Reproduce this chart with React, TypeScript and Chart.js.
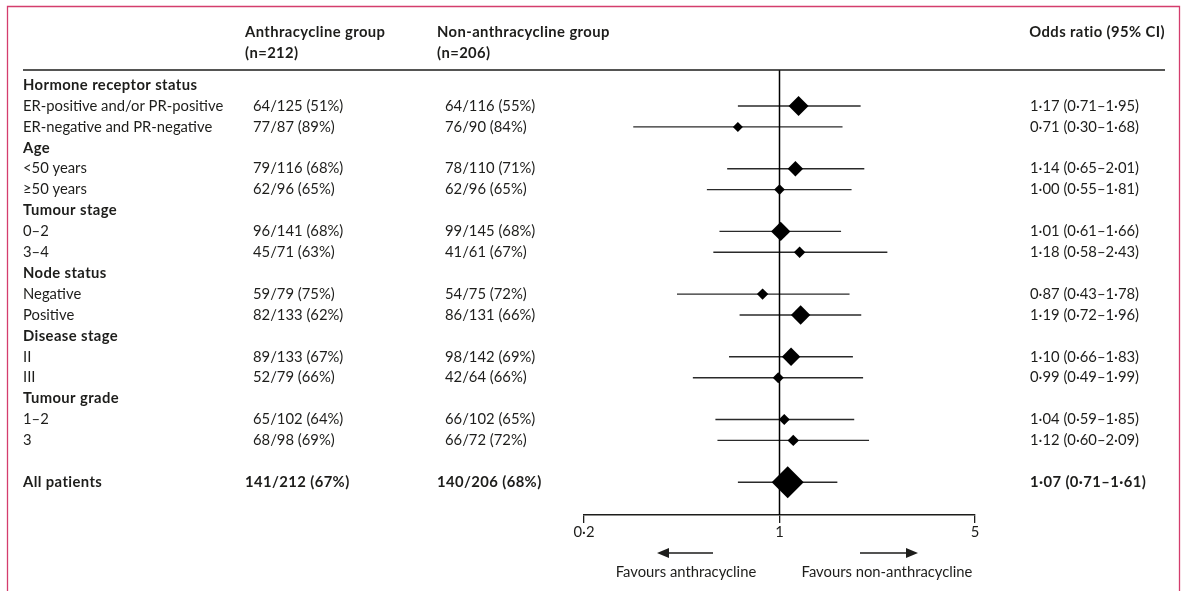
import React, { useEffect, useRef } from 'react';
import { Chart, registerables } from 'chart.js';

Chart.register(...registerables);

// ---------- data ----------
const rowLabels = [
  'Hormone receptor status',
  'ER-positive and/or PR-positive',
  'ER-negative and PR-negative',
  'Age',
  '<50 years',
  '≥50 years',
  'Tumour stage',
  '0–2',
  '3–4',
  'Node status',
  'Negative',
  'Positive',
  'Disease stage',
  'II',
  'III',
  'Tumour grade',
  '1–2',
  '3',
  '',
  'All patients',
];
const rowIsHeading = [true, false, false, true, false, false, true, false, false, true, false, false, true, false, false, true, false, false, false, true];
const anthraValues = ['', '64/125 (51%)', '77/87 (89%)', '', '79/116 (68%)', '62/96 (65%)', '', '96/141 (68%)', '45/71 (63%)', '', '59/79 (75%)', '82/133 (62%)', '', '89/133 (67%)', '52/79 (66%)', '', '65/102 (64%)', '68/98 (69%)', '', '141/212 (67%)'];
const nonAnthraValues = ['', '64/116 (55%)', '76/90 (84%)', '', '78/110 (71%)', '62/96 (65%)', '', '99/145 (68%)', '41/61 (67%)', '', '54/75 (72%)', '86/131 (66%)', '', '98/142 (69%)', '42/64 (66%)', '', '66/102 (65%)', '66/72 (72%)', '', '140/206 (68%)'];
const oddsRatio = [null, 1.17, 0.71, null, 1.14, 1.0, null, 1.01, 1.18, null, 0.87, 1.19, null, 1.1, 0.99, null, 1.04, 1.12, null, 1.07];
const ciLower = [null, 0.71, 0.3, null, 0.65, 0.55, null, 0.61, 0.58, null, 0.43, 0.72, null, 0.66, 0.49, null, 0.59, 0.6, null, 0.71];
const ciUpper = [null, 1.95, 1.68, null, 2.01, 1.81, null, 1.66, 2.43, null, 1.78, 1.96, null, 1.83, 1.99, null, 1.85, 2.09, null, 1.61];
const markerSize = [0, 10, 5, 0, 7.7, 5.3, 0, 9.7, 5.7, 0, 5.7, 9.7, 0, 9.2, 5.5, 0, 5.5, 5.7, 0, 16];
const xTickValues = [0.2, 1, 5];
const groupHeaders = ['Anthracycline group', 'Non-anthracycline group'];
const groupCounts = ['(n=212)', '(n=206)'];
const orHeader = 'Odds ratio (95% CI)';
const favourLabels = ['Favours anthracycline', 'Favours non-anthracycline'];
const totalRowIndex = 19;

// ---------- style ----------
const FONT = 'Lato, "Noto Sans", sans-serif';
const FS = 14.8;
const BOLD_SPACING = '0.4px';
const INK = '#1d1d1b';
const BORDER = '#d43d6d';

const fmt = (v: number) => v.toFixed(2).replace('.', '·');
const fmtTick = (v: number) => String(v).replace('.', '·');

export default function App() {
  const ref = useRef<HTMLCanvasElement | null>(null);

  useEffect(() => {
    const canvas = ref.current;
    if (!canvas) return;

    const rows = rowLabels.map((_, i) => i);
    const markerData = rows
      .filter((i) => oddsRatio[i] !== null)
      .map((i) => ({ x: oddsRatio[i] as number, y: i }));
    const markerRadii = rows.filter((i) => oddsRatio[i] !== null).map((i) => markerSize[i]);

    const ciDatasets = rows
      .filter((i) => oddsRatio[i] !== null)
      .map((i) => ({
        label: 'ci' + i,
        data: [
          { x: ciLower[i] as number, y: i },
          { x: ciUpper[i] as number, y: i },
        ],
        showLine: true,
        borderColor: '#2a2a2a',
        borderWidth: 1.4,
        pointRadius: 0,
        order: 3,
      }));

    const yMin = -0.7225;
    const yMax = 20.57;

    const setFont = (ctx: CanvasRenderingContext2D, bold: boolean) => {
      ctx.font = `${bold ? 'bold ' : ''}${FS}px ${FONT}`;
      (ctx as any).letterSpacing = bold ? BOLD_SPACING : '0px';
    };

    const tablePlugin = {
      id: 'forestTable',
      afterDraw(chart: any) {
        const ctx = chart.ctx as CanvasRenderingContext2D;
        const yScale = chart.scales.y;
        ctx.save();
        // frame
        ctx.strokeStyle = BORDER;
        ctx.lineWidth = 1.3;
        ctx.beginPath();
        ctx.moveTo(7.5, 600);
        ctx.lineTo(7.5, 6.5);
        ctx.lineTo(1179.5, 6.5);
        ctx.lineTo(1179.5, 600);
        ctx.stroke();

        // header rule
        ctx.strokeStyle = INK;
        ctx.lineWidth = 1.5;
        ctx.beginPath();
        ctx.moveTo(23, chart.chartArea.top);
        ctx.lineTo(1165, chart.chartArea.top);
        ctx.stroke();

        ctx.fillStyle = INK;
        ctx.textBaseline = 'middle';
        setFont(ctx, true);
        ctx.textAlign = 'left';
        ctx.fillText(groupHeaders[0], 245, 32);
        ctx.fillText(groupCounts[0], 245, 53);
        ctx.fillText(groupHeaders[1], 437, 32);
        ctx.fillText(groupCounts[1], 437, 53);
        ctx.textAlign = 'right';
        ctx.fillText(orHeader, 1165, 32);
        ctx.textAlign = 'left';

        rowLabels.forEach((label, i) => {
          const py = yScale.getPixelForValue(i);
          const bold = rowIsHeading[i];
          const total = i === totalRowIndex;
          setFont(ctx, bold);
          if (label) ctx.fillText(label, 23, py);
          setFont(ctx, total);
          if (anthraValues[i]) ctx.fillText(anthraValues[i], total ? 245 : 253, py);
          if (nonAnthraValues[i]) ctx.fillText(nonAnthraValues[i], total ? 437 : 445, py);
          if (oddsRatio[i] !== null) {
            ctx.fillText(
              `${fmt(oddsRatio[i] as number)} (${fmt(ciLower[i] as number)}–${fmt(ciUpper[i] as number)})`,
              1030,
              py
            );
          }
        });

        // arrows
        const ay = 553;
        ctx.strokeStyle = INK;
        ctx.lineWidth = 1.5;
        ctx.beginPath();
        ctx.moveTo(713, ay);
        ctx.lineTo(666, ay);
        ctx.moveTo(860, ay);
        ctx.lineTo(908, ay);
        ctx.stroke();
        ctx.beginPath();
        ctx.moveTo(657, ay);
        ctx.lineTo(669, ay - 5);
        ctx.lineTo(669, ay + 5);
        ctx.closePath();
        ctx.moveTo(918, ay);
        ctx.lineTo(906, ay - 5);
        ctx.lineTo(906, ay + 5);
        ctx.closePath();
        ctx.fill();

        setFont(ctx, false);
        ctx.textAlign = 'center';
        ctx.fillText(favourLabels[0], 686, 572);
        ctx.fillText(favourLabels[1], 887, 572);
        ctx.restore();
      },
    };

    const chart = new Chart(canvas, {
      type: 'scatter',
      data: {
        datasets: [
          {
            label: 'OR',
            data: markerData,
            pointStyle: 'rectRot',
            pointRadius: markerRadii,
            backgroundColor: '#000',
            borderWidth: 0,
            order: 1,
          } as any,
          {
            label: 'ref',
            data: [
              { x: 1, y: yMin },
              { x: 1, y: yMax },
            ],
            showLine: true,
            borderColor: '#000',
            borderWidth: 1.5,
            pointRadius: 0,
            order: 2,
          },
          ...ciDatasets,
        ],
      },
      options: {
        responsive: false,
        animation: false,
        devicePixelRatio: 1,
        events: [],
        layout: { padding: { left: 584, right: 209, top: 70, bottom: 46 } },
        plugins: { legend: { display: false }, tooltip: { enabled: false } },
        scales: {
          x: {
            type: 'logarithmic',
            min: 0.2,
            max: 5,
            position: 'bottom',
            afterBuildTicks: (scale: any) => {
              scale.ticks = xTickValues.map((v) => ({ value: v }));
            },
            afterFit: (scale: any) => {
              scale.height = 30;
            },
            ticks: {
              autoSkip: false,
              maxRotation: 0,
              padding: 0,
              color: INK,
              font: { family: FONT, size: FS },
              callback: (v: any) => fmtTick(Number(v)),
            },
            grid: {
              display: true,
              drawOnChartArea: false,
              drawTicks: true,
              tickLength: 8,
              color: INK,
              lineWidth: 1.3,
            },
            border: { display: true, color: INK, width: 1.5 },
          },
          y: {
            type: 'linear',
            reverse: true,
            min: yMin,
            max: yMax,
            display: false,
          },
        },
      } as any,
      plugins: [tablePlugin],
    });
    return () => chart.destroy();
  }, []);

  return (
    <div style={{ position: 'fixed', left: 0, top: 0, width: 1184, height: 591, background: '#fff' }}>
      <canvas ref={ref} width={1184} height={591} style={{ display: 'block' }} />
    </div>
  );
}
